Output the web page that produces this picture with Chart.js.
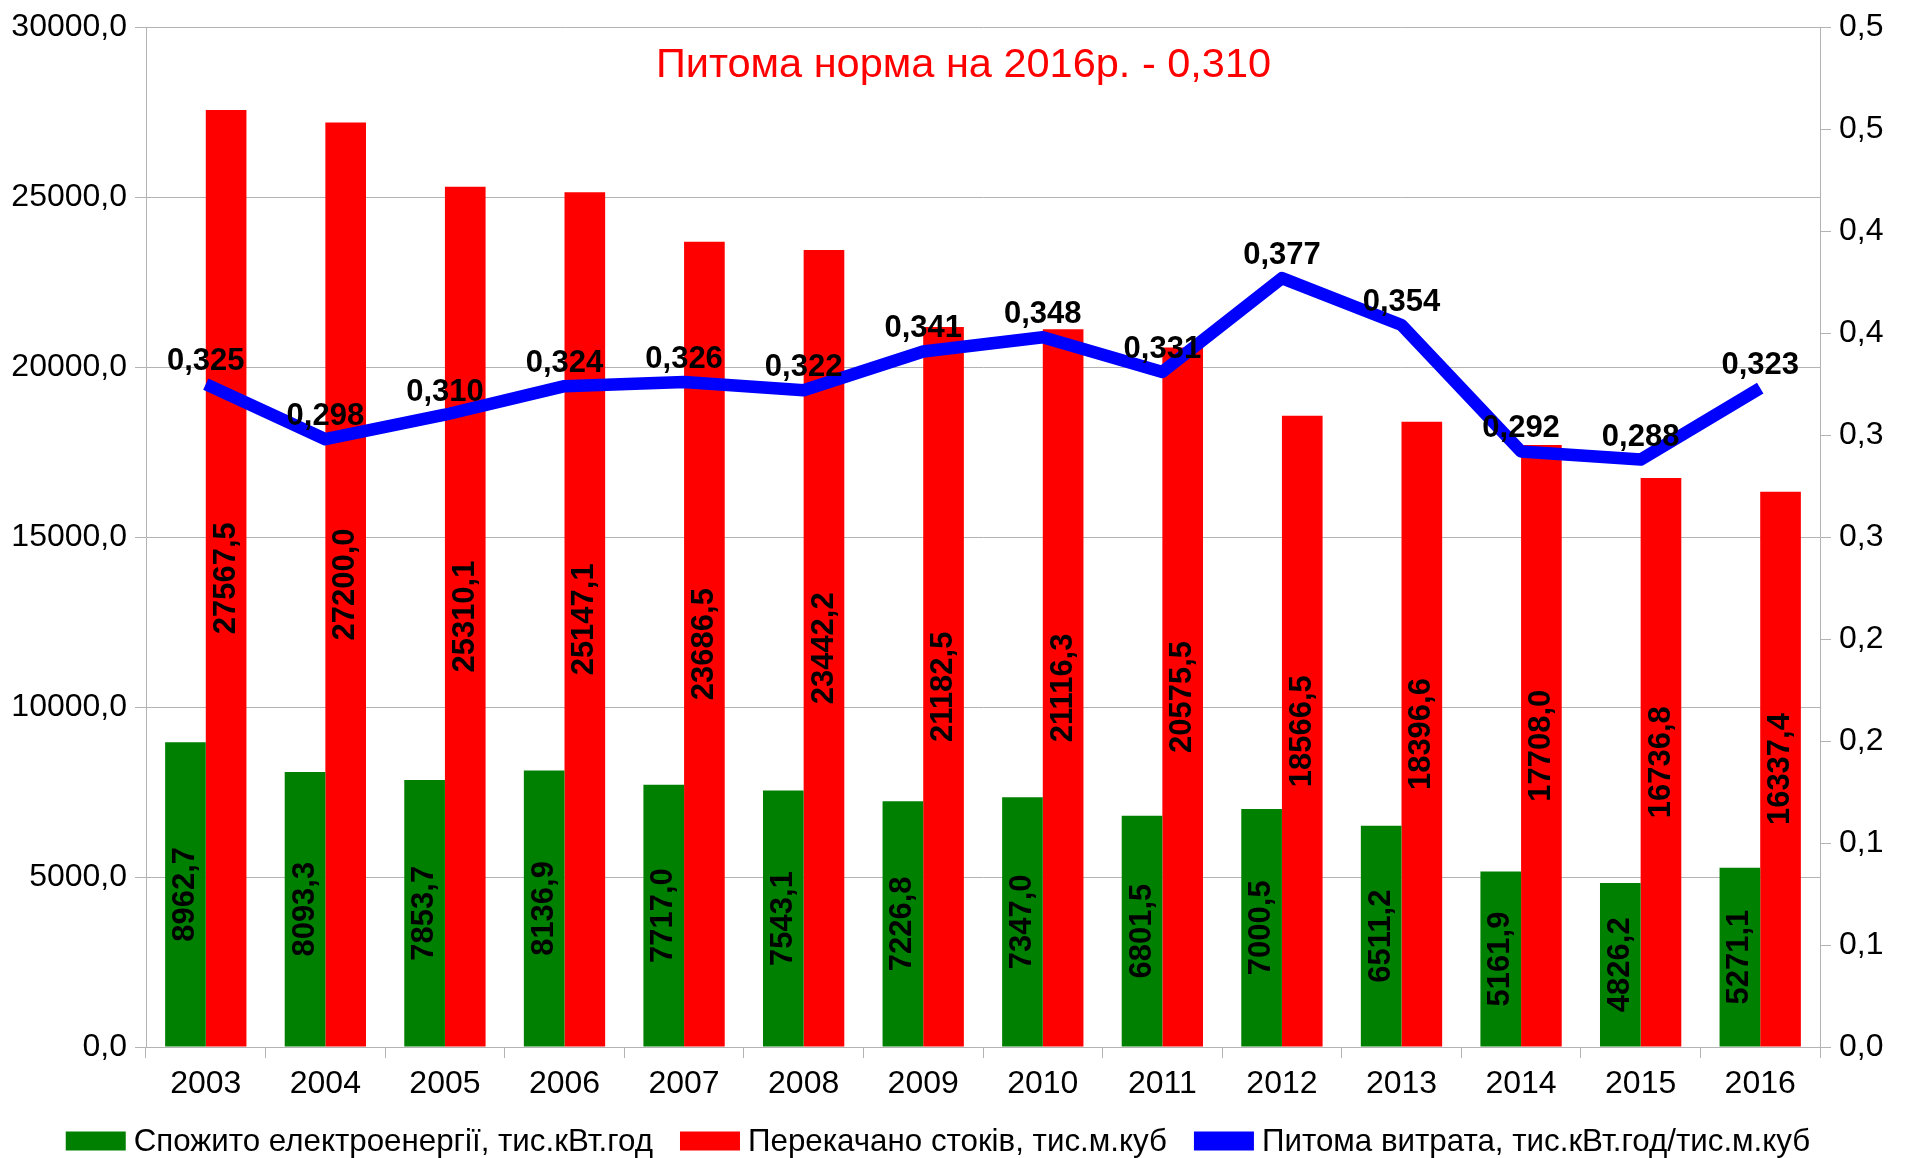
<!DOCTYPE html>
<html>
<head>
<meta charset="utf-8">
<title>Питома витрата</title>
<script src="https://cdn.jsdelivr.net/npm/chart.js@4.4.0/dist/chart.umd.min.js"></script>
<style>
    html, body { margin: 0; padding: 0; background: #fff; }
</style>
</head>
<body>
<canvas id="chart" width="1907" height="1158"></canvas>
<script>
// Data
const years = ['2003', '2004', '2005', '2006', '2007', '2008', '2009', '2010', '2011', '2012', '2013', '2014', '2015', '2016'];
const energy = [8962.7, 8093.3, 7853.7, 8136.9, 7717.0, 7543.1, 7226.8, 7347.0, 6801.5, 7000.5, 6511.2, 5161.9, 4826.2, 5271.1];
const sewage = [27567.5, 27200.0, 25310.1, 25147.1, 23686.5, 23442.2, 21182.5, 21116.3, 20575.5, 18566.5, 18396.6, 17708.0, 16736.8, 16337.4];
const specific = [0.325, 0.298, 0.310, 0.324, 0.326, 0.322, 0.341, 0.348, 0.331, 0.377, 0.354, 0.292, 0.288, 0.323];

// Right axis ticks (labels as printed, one decimal)
const rightTickValues = [0, 0.05, 0.1, 0.15, 0.2, 0.25, 0.3, 0.35, 0.4, 0.45, 0.5];
const rightTickLabels = ['0,0', '0,1', '0,1', '0,2', '0,2', '0,3', '0,3', '0,4', '0,4', '0,5', '0,5'];

const seriesNames = [
    'Спожито електроенергії, тис.кВт.год',
    'Перекачано стоків, тис.м.куб',
    'Питома витрата, тис.кВт.год/тис.м.куб'
];
const seriesColors = ['#008000', '#ff0000', '#0000ff'];
const titleText = 'Питома норма на 2016р. - 0,310';

const FONT = "'Liberation Sans', Arial, sans-serif";
const GRID = '#b3b3b3';

function comma(v, digits) {
    return v.toFixed(digits).replace('.', ',');
}

// value labels, title and legend drawn by hand
const labelsPlugin = {
    id: 'valueLabels',
    afterDatasetsDraw(chart) {
        const ctx = chart.ctx;
        ctx.save();
        ctx.font = 'bold 31px ' + FONT;
        ctx.fillStyle = '#000';
        ctx.textAlign = 'center';
        ctx.textBaseline = 'middle';

        // rotated labels inside the bars
        [0, 1].forEach(di => {
            const meta = chart.getDatasetMeta(di);
            const values = chart.data.datasets[di].data;
            meta.data.forEach((bar, i) => {
                ctx.save();
                ctx.translate(bar.x, (bar.y + bar.base) / 2);
                ctx.rotate(-Math.PI / 2);
                ctx.fillText(comma(values[i], 1), 0, 0);
                ctx.restore();
            });
        });

        // labels above the line points
        ctx.textBaseline = 'alphabetic';
        chart.getDatasetMeta(2).data.forEach((pt, i) => {
            ctx.fillText(comma(specific[i], 3), pt.x, pt.y - 14);
        });
        ctx.restore();
    },
    afterDraw(chart) {
        const ctx = chart.ctx;
        ctx.save();
        // title inside the plot
        ctx.font = '41.5px ' + FONT;
        ctx.fillStyle = '#ff0000';
        ctx.textAlign = 'center';
        ctx.textBaseline = 'alphabetic';
        ctx.fillText(titleText, chart.width / 2 + 10, 77);

        // legend row at the bottom
        ctx.font = '31.3px ' + FONT;
        ctx.textAlign = 'left';
        ctx.textBaseline = 'middle';
        const boxW = 60, boxH = 19, gapText = 8, gapItem = 27;
        const cy = 1141;
        let total = 0;
        seriesNames.forEach((name, i) => {
            total += boxW + gapText + ctx.measureText(name).width + (i < seriesNames.length - 1 ? gapItem : 0);
        });
        let x = (chart.chartArea.left + chart.chartArea.right) / 2 - total / 2 - 45;
        seriesNames.forEach((name, i) => {
            ctx.fillStyle = seriesColors[i];
            ctx.fillRect(x, cy - boxH / 2, boxW, boxH);
            x += boxW + gapText;
            ctx.fillStyle = '#000';
            ctx.fillText(name, x, cy + 1);
            x += ctx.measureText(name).width + gapItem;
        });
        ctx.restore();
    }
};

const ctx = document.getElementById('chart').getContext('2d');
const chart = new Chart(ctx, {
    type: 'bar',
    data: {
        labels: years,
        datasets: [
            {
                type: 'bar',
                label: seriesNames[0],
                data: energy,
                backgroundColor: seriesColors[0],
                yAxisID: 'y',
                order: 1,
                barPercentage: 1,
                categoryPercentage: 0.68
            },
            {
                type: 'bar',
                label: seriesNames[1],
                data: sewage,
                backgroundColor: seriesColors[1],
                yAxisID: 'y',
                order: 1,
                barPercentage: 1,
                categoryPercentage: 0.68
            },
            {
                type: 'line',
                label: seriesNames[2],
                data: specific,
                borderColor: seriesColors[2],
                backgroundColor: seriesColors[2],
                borderWidth: 12.5,
                borderCapStyle: 'butt',
                borderJoinStyle: 'round',
                pointRadius: 0,
                tension: 0,
                yAxisID: 'y1',
                order: 0
            }
        ]
    },
    options: {
        responsive: false,
        animation: false,
        layout: { padding: { top: 23, left: 0, right: 0, bottom: 59 } },
        plugins: {
            tooltip: { enabled: false },
            legend: { display: false }
        },
        scales: {
            x: {
                grid: { offset: true, drawOnChartArea: false, tickLength: 11, color: GRID },
                border: { color: GRID },
                ticks: {
                    color: '#000',
                    font: { family: FONT, size: 32 },
                    padding: 7,
                    maxRotation: 0,
                    autoSkip: false
                },
                afterFit: s => { s.height = 52; }
            },
            y: {
                position: 'left',
                min: 0,
                max: 30000,
                grid: { color: GRID, tickLength: 11 },
                border: { color: GRID },
                ticks: {
                    stepSize: 5000,
                    color: '#000',
                    padding: 8,
                    font: { family: FONT, size: 32 },
                    callback: v => comma(v, 1)
                },
                afterFit: s => { s.width = 146; }
            },
            y1: {
                position: 'right',
                min: 0,
                max: 0.5,
                grid: { drawOnChartArea: false, color: GRID, tickLength: 11 },
                border: { color: GRID },
                afterBuildTicks: s => { s.ticks = rightTickValues.map(v => ({ value: v })); },
                ticks: {
                    color: '#000',
                    padding: 8,
                    font: { family: FONT, size: 32 },
                    callback: (v, i) => rightTickLabels[i]
                },
                afterFit: s => { s.width = 87; }
            }
        }
    },
    plugins: [labelsPlugin]
});
</script>
</body>
</html>
